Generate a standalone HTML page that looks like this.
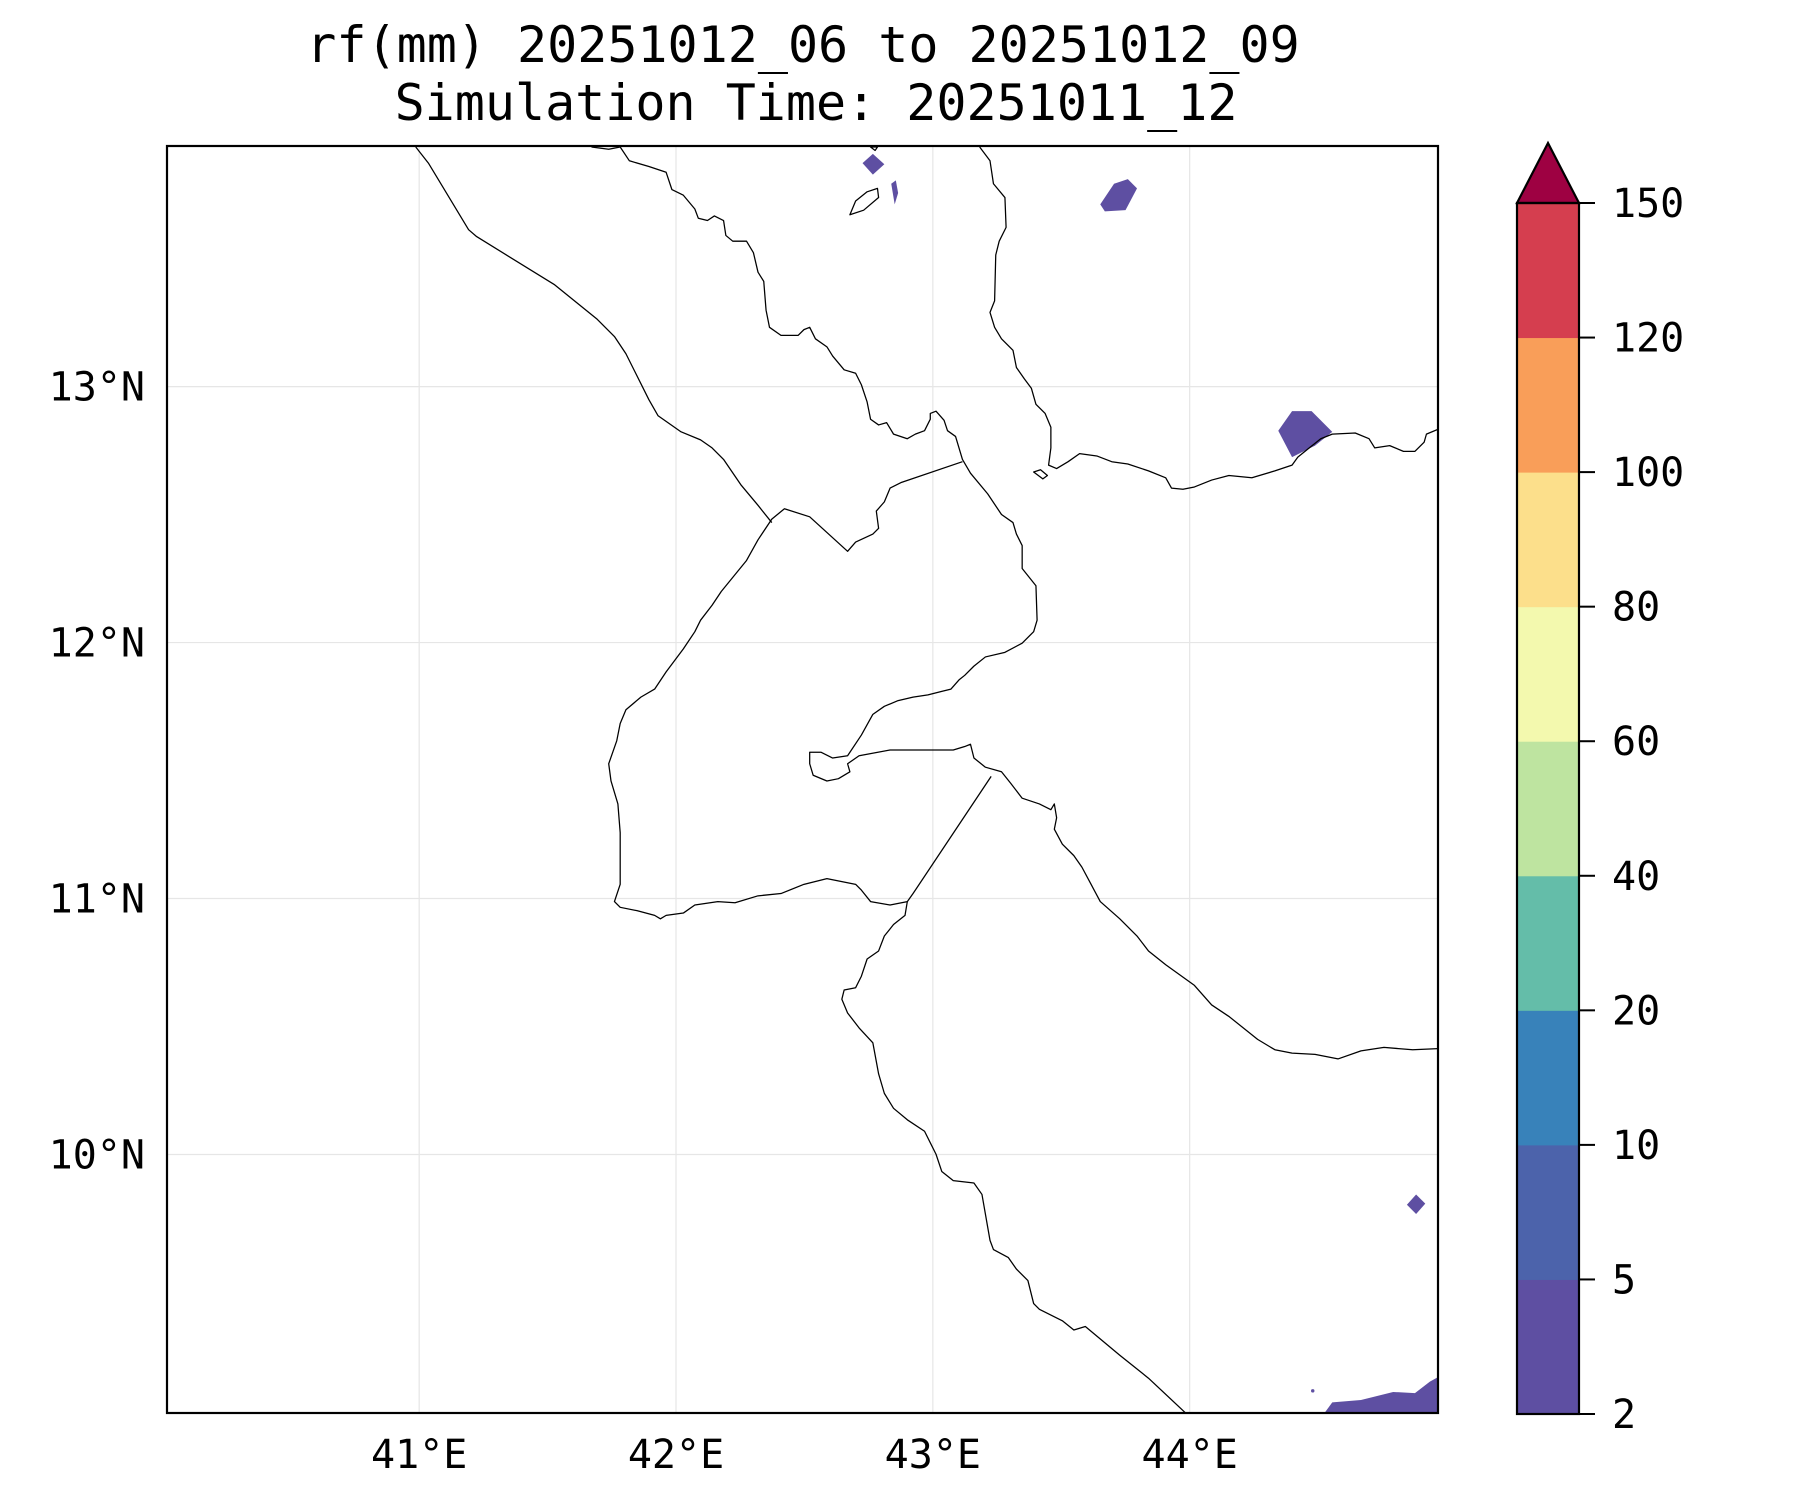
<!DOCTYPE html>
<html><head><meta charset="utf-8"><style>
html,body{margin:0;padding:0;background:#fff;}
svg{display:block;}
text{font-family:"DejaVu Sans Mono","Liberation Mono",monospace;fill:#000;}
</style></head><body>
<svg id="chart" width="1800" height="1500" viewBox="0 0 1800 1500" xmlns="http://www.w3.org/2000/svg">
<text x="803" y="62" font-size="50" text-anchor="middle">rf(mm) 20251012_06 to 20251012_09</text>
<text x="816" y="120" font-size="50" text-anchor="middle">Simulation Time: 20251011_12</text>
<defs><clipPath id="clip"><rect x="167" y="146" width="1271" height="1267"/></clipPath></defs>
<g id="grid"></g>
<g clip-path="url(#clip)">
<g transform="scale(1.1485)">
 <g fill="#5e4fa2" stroke="none">
  <polygon points="751,142 760,134 770,143 760,152"/>
  <polygon points="776,160 780,157 782,168 779,178"/>
  <polygon points="958,178 970,160 982,156 990,164 980,183 962,184"/>
  <polygon points="1113,375 1125,358 1142,358 1160,376 1145,388 1125,398"/>
  <polygon points="1225,1049 1233,1040 1241,1048 1233,1057"/>
  <polygon points="1152,1232 1160,1221 1185,1219 1213,1212 1232,1213 1245,1203 1254,1198 1254,1232"/>
  <circle cx="1143" cy="1211" r="1.5"/>
 </g>
 <g fill="none" stroke="#000" stroke-width="1.1" stroke-linejoin="round">
  <polyline points="362,128 373,142 408,200 415,206 483,248 520,278 535,293 545,308 565,348 573,362 593,376 610,383 620,390 630,400 645,422 660,440 672,455"/>
  <polyline points="515,128 530,130 540,128 548,140 565,145 580,150 585,165 595,170 605,182 608,190 616,192 622,188 630,192 632,205 638,210 650,210 656,220 660,237 665,245 667,270 670,285 680,292 695,292 700,287 705,285 710,295 720,302 725,310 735,322 745,325 750,335 755,350 758,365 765,370 772,368 778,378 790,382 797,378 805,375 810,365 810,360 815,358 822,366 825,375 832,380 838,400 845,412 860,430 872,448 882,455 885,465 890,475 890,495 902,510 903,540 900,550 890,560 875,568 858,572 848,580 840,588 835,592 828,600 820,602 808,605 795,607 782,610 770,615 760,622 750,640 738,658 725,660 715,655 705,655 705,665 708,675 720,680 730,678 740,672 738,665 748,658 775,653 830,653 840,650 845,648 848,660 858,668 872,672 880,682 890,695 905,700 915,705 918,700 920,712 918,722 925,735 935,745 942,755 950,770 958,785 975,800 990,815 1000,828 1015,840 1040,858 1055,875 1070,885 1095,905 1110,914 1125,917 1145,918 1165,922 1185,915 1205,912 1230,914 1254,913"/>
  <polyline points="838,402 785,420 775,425 770,437 763,445 765,460 760,465 745,472 738,480 705,450 683,443 672,452 660,470 650,488 628,515 620,527 610,540 605,550 595,565 580,585 570,600 558,607 545,618 540,630 537,645 530,665 532,680 538,700 540,725 540,770 535,785 540,790 555,793 570,797 575,800 580,797 595,795 605,788 625,785 640,786 660,780 680,778 700,770 720,765 745,770 750,775 758,785 775,788 790,785 795,778 863,676"/>
  <polyline points="790,785 788,797 778,805 770,815 765,828 755,835 750,850 745,860 735,862 733,870 738,882 748,895 760,908 765,935 770,952 778,965 790,975 805,985 815,1005 820,1020 830,1028 848,1030 855,1040 862,1080 865,1088 878,1095 885,1105 895,1115 900,1135 905,1140 925,1150 935,1158 945,1155 975,1180 1000,1200 1032,1230"/>
  <polyline points="853,128 862,140 865,160 875,172 876,198 870,210 867,222 866,262 862,272 866,285 872,295 882,305 885,320 892,330 898,338 902,352 910,360 915,372 915,390 913,405 920,408 930,402 940,395 955,397 968,402 982,404 1000,410 1015,416 1020,425 1030,426 1040,424 1055,418 1070,414 1080,415 1090,416 1110,410 1125,405 1130,398 1140,390 1150,382 1160,378 1180,377 1192,382 1197,390 1210,388 1222,393 1232,393 1240,385 1242,378 1254,373"/>
  <polygon points="740,187 745,175 755,167 764,164 765,172 752,183"/>
  <polygon points="900,411 906,409 912,414 908,417"/>
  <polygon points="758,128 764,128 762,131"/>
 </g>
</g>
</g>
<rect x="167" y="146" width="1271" height="1267" fill="none" stroke="#000" stroke-width="2.2"/>
<g id="axes"></g>
<g id="cbar"></g>
</svg>
<script>
const lonTicks = [41, 42, 43, 44];
const latTicks = [13, 12, 11, 10];
const cbLevels = [2, 5, 10, 20, 40, 60, 80, 100, 120, 150];
const cbColors = ["#5e4fa2", "#4c63ab", "#3882ba", "#64bda9", "#bee4a0", "#f3f9ae", "#fcdf8b", "#f99e59", "#d53e4f"];
const cbExtendColor = "#9e0142";

const NS = "http://www.w3.org/2000/svg";
const L = 167, R = 1438, T = 146, B = 1413;
const lon0 = 40.018, lon1 = 44.967, lat0 = 8.99, lat1 = 13.94;
function xLon(v){ return L + (v - lon0) / (lon1 - lon0) * (R - L); }
function yLat(v){ return B - (v - lat0) / (lat1 - lat0) * (B - T); }
function mk(tag, attrs, parent){ const e = document.createElementNS(NS, tag); for (const k in attrs) e.setAttribute(k, attrs[k]); parent.appendChild(e); return e; }

const grid = document.getElementById('grid');
const axes = document.getElementById('axes');
lonTicks.forEach(v => {
  const x = xLon(v);
  const g = mk('line', {x1:x, x2:x, y1:T, y2:B, stroke:'#e6e6e6', 'stroke-width':1.2}, grid);
  
  
  const t = mk('text', {x:x, y:1468, 'font-size':40, 'text-anchor':'middle'}, axes);
  t.textContent = v + '°E';
  
  
});
latTicks.forEach(v => {
  const y = yLat(v);
  const g = mk('line', {x1:L, x2:R, y1:y, y2:y, stroke:'#e6e6e6', 'stroke-width':1.2}, grid);
  
  
  const t = mk('text', {x:145, y:y + 14, 'font-size':40, 'text-anchor':'end'}, axes);
  t.textContent = v + '°N';
  
  
});

const cb = document.getElementById('cbar');
const cL = 1517, cR = 1579, cT = 203, cB = 1414;
const step = (cB - cT) / (cbLevels.length - 1);
function yCb(i){ return cB - i * step; }
cbColors.forEach((c, i) => {
  const r = mk('rect', {x:cL, y:yCb(i+1), width:cR-cL, height:step+0.5, fill:c}, cb);
  
  
});
const tri = mk('polygon', {points:`${cL},${cT} ${(cL+cR)/2},${cT-60} ${cR},${cT}`, fill:cbExtendColor, stroke:'#000', 'stroke-width':2.2, 'stroke-linejoin':'miter'}, cb);


const fr = mk('rect', {x:cL, y:cT, width:cR-cL, height:cB-cT, fill:'none', stroke:'#000', 'stroke-width':2.2}, cb);


cbLevels.forEach((v, i) => {
  const y = yCb(i);
  const tk = mk('line', {x1:cR, x2:cR+16, y1:y, y2:y, stroke:'#000', 'stroke-width':2}, cb);
  
  
  const t = mk('text', {x:1612, y:y + 14, 'font-size':40}, cb);
  t.textContent = v;
  
  
});
</script>
</body></html>
